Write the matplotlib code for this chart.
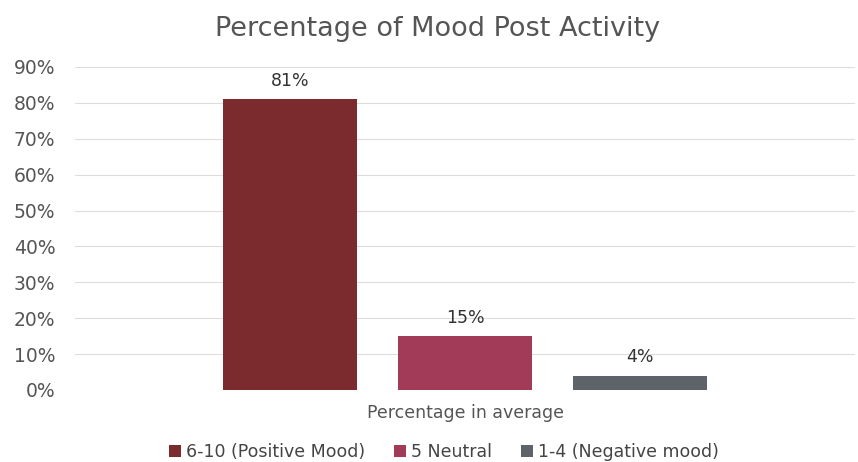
import matplotlib
matplotlib.use("Agg")
import matplotlib.pyplot as plt
from matplotlib.ticker import FuncFormatter

series = ["6-10 (Positive Mood)", "5 Neutral", "1-4 (Negative mood)"]
values = [0.81, 0.15, 0.04]
labels = ["81%", "15%", "4%"]
category = "Percentage in average"
colors = ["#7B2B2D", "#A23B57", "#5D6369"]

plt.rcParams['font.family'] = ['DejaVu Sans']
fig = plt.figure(figsize=(8.58, 4.62), dpi=100)
ax = fig.add_axes([0.087, 0.156, 0.91, 0.699])

offsets = [-0.224, 0.0, 0.224]
width = 0.172
for s, v, l, c, o in zip(series, values, labels, colors, offsets):
    ax.bar(o, v, width=width, color=c, label=s, zorder=2)
    ax.text(o, v + 0.026, l, ha='center', va='bottom', fontsize=12.5, color='#333333')

ax.set_xlim(-0.5, 0.5)
ax.set_ylim(0, 0.9)
ax.set_yticks([i / 10 for i in range(10)])
ax.yaxis.set_major_formatter(FuncFormatter(lambda y, p: f"{round(y*100)}%"))
ax.set_xticks([0])
ax.set_xticklabels([category])
ax.tick_params(axis='y', length=0, labelsize=13.5, colors='#555555', pad=14)
ax.tick_params(axis='x', length=0, labelsize=12.5, colors='#555555', pad=10)
ax.grid(axis='y', color='#DDDDDD', linewidth=0.8, zorder=0)
for sp in ax.spines.values():
    sp.set_visible(False)

fig.suptitle("Percentage of Mood Post Activity", x=0.51, y=0.965, fontsize=19.5, color='#555555')
ax.legend(loc='lower center', bbox_to_anchor=(0.473, -0.27), ncol=3, frameon=False,
          fontsize=12.5, handlelength=0.7, handleheight=0.7, handletextpad=0.25,
          columnspacing=1.7, labelcolor='#444444')
fig.savefig("out.png", dpi=100)
